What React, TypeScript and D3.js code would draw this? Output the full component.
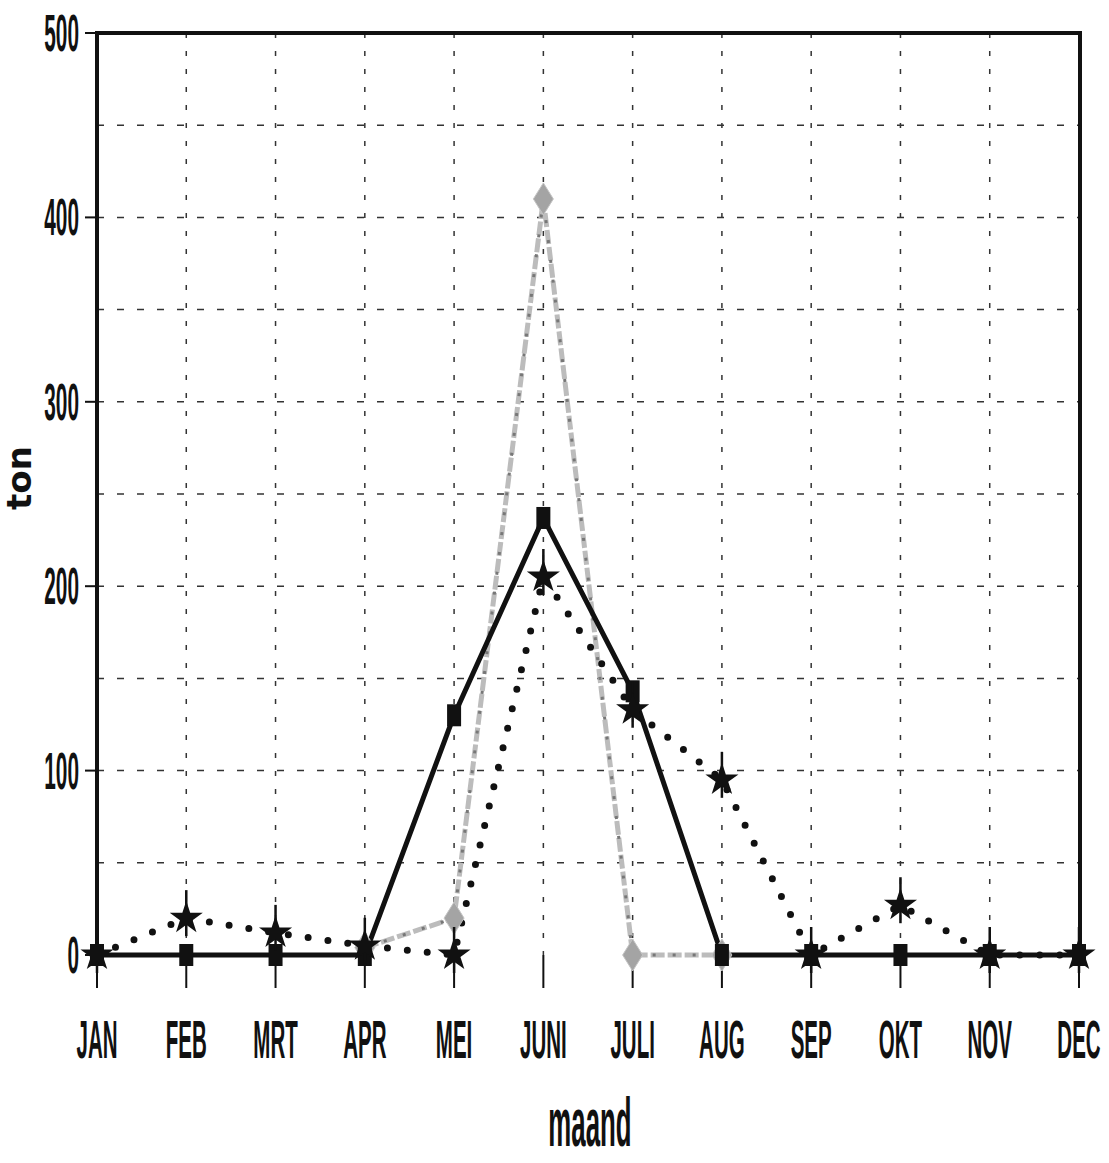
import * as d3 from "d3"
import { useEffect, useRef } from "react"

const months = ["JAN", "FEB", "MRT", "APR", "MEI", "JUNI", "JULI", "AUG", "SEP", "OKT", "NOV", "DEC"]
const yTicks = [0, 100, 200, 300, 400, 500]
const gridValues = [50, 100, 150, 200, 250, 300, 350, 400, 450]

// solid line with squares
const solidValues = [0, 0, 0, 0, 130, 237, 143, 0, 0, 0, 0, 0]
// dotted line with stars
const dottedValues = [0, 20, 12, 5, 0, 205, 133, 95, 0, 27, 0, 0]
// grey dashed line with diamonds
const greyValues: (number | null)[] = [null, null, null, 4, 20, 410, 0, 0, null, null, null, null]

const W = 1109
const H = 1163

const App = () => {
  const svgRef = useRef<SVGSVGElement | null>(null)

  useEffect(() => {
    if (!svgRef.current) return
    const svg = d3.select(svgRef.current)
    svg.selectAll("*").remove()

    const left = 97
    const right = 1080
    const top = 33
    const bottom = 955

    const x = d3.scalePoint<string>().domain(months).range([left, right - 1])
    const y = d3.scaleLinear().domain([0, 500]).range([bottom, top])

    const g = svg.append("g")

    // Grid lines
    g.selectAll(".hgrid")
      .data(gridValues)
      .enter()
      .append("line")
      .attr("x1", left)
      .attr("x2", right)
      .attr("y1", (d) => y(d))
      .attr("y2", (d) => y(d))
      .attr("stroke", "#333")
      .attr("stroke-width", 1.5)
      .attr("stroke-dasharray", "7,13")

    g.selectAll(".vgrid")
      .data(months.slice(1, -1))
      .enter()
      .append("line")
      .attr("x1", (d) => x(d)!)
      .attr("x2", (d) => x(d)!)
      .attr("y1", top)
      .attr("y2", bottom)
      .attr("stroke", "#333")
      .attr("stroke-width", 1.5)
      .attr("stroke-dasharray", "5,13")

    // Month ticks below the zero line
    g.selectAll(".xtick")
      .data(months)
      .enter()
      .append("line")
      .attr("x1", (d) => x(d)!)
      .attr("x2", (d) => x(d)!)
      .attr("y1", bottom)
      .attr("y2", bottom + 33)
      .attr("stroke", "#111")
      .attr("stroke-width", 2)

    // Frame: left, top, right
    g.append("path")
      .attr("d", `M${left},${bottom}V${top}H${right}V${bottom}`)
      .attr("fill", "none")
      .attr("stroke", "#111")
      .attr("stroke-width", 4)

    // Y ticks
    g.selectAll(".ytick")
      .data(yTicks)
      .enter()
      .append("line")
      .attr("x1", left - 12)
      .attr("x2", left)
      .attr("y1", (d) => y(d))
      .attr("y2", (d) => y(d))
      .attr("stroke", "#111")
      .attr("stroke-width", 2)

    g.selectAll(".ylabel")
      .data(yTicks)
      .enter()
      .append("text")
      .attr("transform", (d) => `translate(79,${y(d) + 18}) scale(0.4,1)`)
      .attr("text-anchor", "end")
      .style("font", "bold 52px 'Liberation Sans', Arial, sans-serif")
      .attr("fill", "#111")
      .text((d) => d)

    // Month labels
    g.selectAll(".xlabel")
      .data(months)
      .enter()
      .append("text")
      .attr("transform", (d) => `translate(${x(d)!},1058) scale(0.38,1)`)
      .attr("text-anchor", "middle")
      .style("font", "bold 54px 'Liberation Sans', Arial, sans-serif")
      .attr("fill", "#111")
      .text((d) => d)

    // Axis titles
    g.append("text")
      .attr("transform", `translate(590,1146) scale(0.38,1)`)
      .attr("text-anchor", "middle")
      .style("font", "bold 68px 'Liberation Sans', Arial, sans-serif")
      .attr("fill", "#111")
      .text("maand")

    g.append("text")
      .attr("transform", `translate(31,478) rotate(-90)`)
      .attr("text-anchor", "middle")
      .style("font", "bold 34px 'DejaVu Sans', sans-serif")
      .attr("fill", "#111")
      .text("ton")

    const greyLine = d3
      .line<number | null>()
      .defined((d) => d !== null)
      .x((_, i) => x(months[i])!)
      .y((d) => y(d as number))

    const line = d3
      .line<number>()
      .x((_, i) => x(months[i])!)
      .y((d) => y(d))

    // Grey series
    g.append("path")
      .attr("d", greyLine(greyValues)!)
      .attr("fill", "none")
      .attr("stroke", "#bcbcbc")
      .attr("stroke-width", 5)
      .attr("stroke-dasharray", "14,3")
    g.append("path")
      .attr("d", greyLine(greyValues)!)
      .attr("fill", "none")
      .attr("stroke", "#777")
      .attr("stroke-width", 3)
      .attr("stroke-dasharray", "3,17")

    // Solid series
    g.append("path")
      .attr("d", line(solidValues)!)
      .attr("fill", "none")
      .attr("stroke", "#111")
      .attr("stroke-width", 5)
      .attr("stroke-linejoin", "miter")

    // Dotted series
    g.append("path")
      .attr("d", line(dottedValues)!)
      .attr("fill", "none")
      .attr("stroke", "#111")
      .attr("stroke-width", 7)
      .attr("stroke-linecap", "round")
      .attr("stroke-dasharray", "0,20")

    // Grey diamonds
    g.selectAll(".diamond")
      .data(greyValues.map((v, i) => ({ v, m: months[i] })).filter((d) => d.v !== null))
      .enter()
      .append("path")
      .attr("d", (d) => {
        const cx = x(d.m)!
        const cy = y(d.v as number)
        return `M${cx},${cy - 16}L${cx + 10},${cy}L${cx},${cy + 16}L${cx - 10},${cy}Z`
      })
      .attr("fill", "#a4a4a4")
      .attr("stroke", "#c4c4c4")
      .attr("stroke-width", 1)

    // Squares
    g.selectAll(".square")
      .data(solidValues)
      .enter()
      .append("rect")
      .attr("x", (_, i) => x(months[i])! - 7)
      .attr("y", (d) => y(d) - 11)
      .attr("width", 14)
      .attr("height", 22)
      .attr("fill", "#111")

    // Stars
    const star = d3.symbol().type(d3.symbolStar).size(340)
    const stars = g
      .selectAll(".star")
      .data(dottedValues)
      .enter()
      .append("g")
      .attr("transform", (d, i) => `translate(${x(months[i])!},${y(d)})`)
    stars
      .append("line")
      .attr("y1", -28)
      .attr("y2", 18)
      .attr("stroke", "#111")
      .attr("stroke-width", 2.5)
    stars.append("path").attr("d", star()!).attr("fill", "#111")
  }, [])

  return (
    <div style={{ position: "absolute", left: 0, top: 0 }}>
      <svg ref={svgRef} width={W} height={H} style={{ display: "block", background: "#fff" }} />
    </div>
  )
}

export default App
